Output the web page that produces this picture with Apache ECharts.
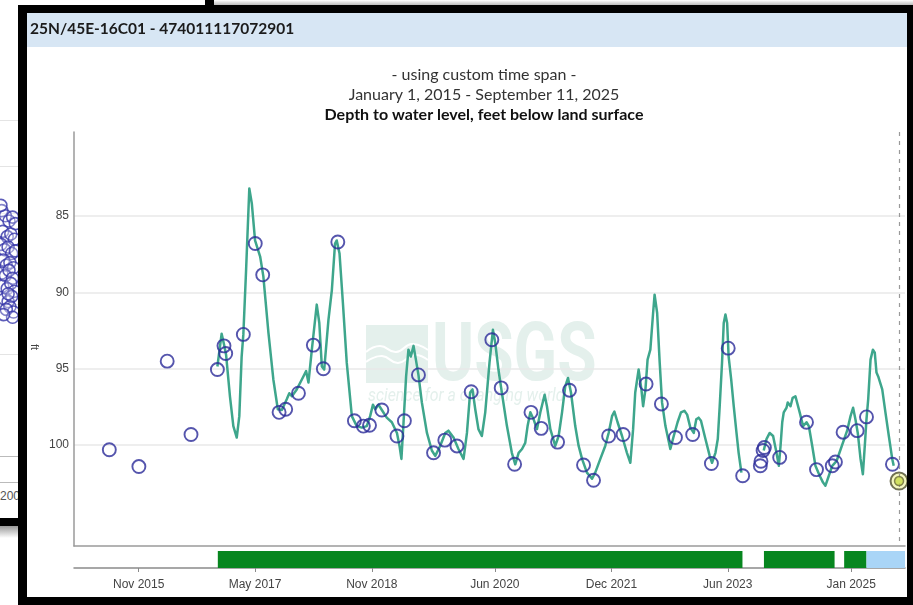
<!DOCTYPE html>
<html>
<head>
<meta charset="utf-8">
<script src="https://cdn.jsdelivr.net/npm/echarts@6/dist/echarts.min.js"></script>
<style>
  html, body { margin:0; padding:0; width:913px; height:605px; overflow:hidden; background:#fff; }
  #chart { position:absolute; left:0; top:0; width:913px; height:605px; z-index:1; }
  .f { position:absolute; z-index:3; }
  .hdr { position:absolute; z-index:0; left:27px; top:13px; width:881px; height:34px; background:#d7e6f4; }
  .hdrtxt { position:absolute; z-index:4; left:30px; top:19px; font:bold 15.5px Lato, "Open Sans", sans-serif; color:#1b1b1b; }
  .bgline { position:absolute; z-index:0; left:0; width:18px; height:1px; background:#e4e4e4; }
</style>
</head>
<body>
<div class="hdr"></div>
<div class="hdrtxt">25N/45E-16C01 - 474011117072901</div>
<!-- background window fragments on the left -->
<div class="bgline" style="top:120px"></div>
<div class="bgline" style="top:166px"></div>
<div class="bgline" style="top:213px"></div>
<div class="bgline" style="top:304px"></div>
<div class="bgline" style="top:354px"></div>
<div class="bgline" style="top:456px;background:#bbb"></div>
<div class="bgline" style="top:482px;background:#bbb"></div>
<div style="position:absolute;z-index:0;left:0;top:489px;font:12px 'Liberation Sans',Arial,sans-serif;color:#555">200</div>
<div class="f" style="left:0;top:518px;width:18px;height:8px;background:#000"></div>
<div class="f" style="left:0;top:526px;width:18px;height:12px;background:linear-gradient(#999,#fff)"></div>
<!-- main window frame -->
<div class="f" style="left:205px;top:0;width:9px;height:6px;background:#000"></div>
<div class="f" style="left:214px;top:0;width:699px;height:5px;background:linear-gradient(#fff,#bbb)"></div>
<div class="f" style="left:18px;top:5px;width:895px;height:8px;background:#000"></div>
<div class="f" style="left:18px;top:5px;width:9px;height:600px;background:#000"></div>
<div class="f" style="left:907px;top:5px;width:6px;height:600px;background:#000"></div>
<div class="f" style="left:18px;top:597px;width:895px;height:8px;background:#000"></div>
<div id="chart"></div>
<script>
// ---------- data ----------
const yTicks = [85, 90, 95, 100];
const xTickDates = ['2015-11-01','2017-05-01','2018-11-01','2020-06-01','2021-12-01','2023-06-01','2025-01-01'];
const xTickLabels = ['Nov 2015','May 2017','Nov 2018','Jun 2020','Dec 2021','Jun 2023','Jan 2025'];

// continuous record (depth to water, ft below land surface)
const lineDates = [
'2016-11-05','2016-11-25','2016-12-06','2016-12-16','2017-01-03','2017-01-19','2017-02-04','2017-02-16','2017-02-27','2017-03-07',
'2017-03-20','2017-04-04','2017-04-16','2017-05-01','2017-05-25','2017-06-09','2017-07-03','2017-07-26','2017-08-16','2017-09-04',
'2017-09-27','2017-10-09','2017-10-21','2017-11-13','2017-12-07','2017-12-27','2018-01-07','2018-01-23','2018-02-15','2018-02-27',
'2018-03-11','2018-03-22','2018-04-11','2018-04-27','2018-05-12','2018-05-20','2018-06-02','2018-06-18','2018-07-06','2018-07-30',
'2018-08-22','2018-09-15','2018-10-08','2018-10-24','2018-11-06','2018-11-17','2018-12-02','2018-12-18','2019-01-10','2019-02-03',
'2019-02-27','2019-03-11','2019-03-20','2019-03-30','2019-04-11','2019-04-22','2019-05-03','2019-05-16','2019-05-27','2019-06-08',
'2019-06-24','2019-07-18','2019-08-10','2019-08-26','2019-09-18','2019-10-12','2019-10-27','2019-11-20','2019-12-13','2020-01-06',
'2020-01-22','2020-02-06','2020-02-17','2020-03-01','2020-03-16','2020-04-01','2020-04-17','2020-05-07','2020-05-23','2020-06-03',
'2020-06-18','2020-07-04','2020-07-28','2020-08-20','2020-09-05','2020-09-21','2020-10-07','2020-10-22','2020-11-02','2020-11-15',
'2020-11-30','2020-12-16','2021-01-01','2021-01-21','2021-02-01','2021-02-17','2021-03-12','2021-03-28','2021-04-13','2021-04-28',
'2021-05-11','2021-05-25','2021-06-14','2021-06-30','2021-07-16','2021-08-08','2021-09-01','2021-09-16','2021-10-10','2021-11-02',
'2021-11-18','2021-12-04','2021-12-15','2021-12-30','2022-01-20','2022-02-12','2022-02-28','2022-03-13','2022-03-23','2022-04-08',
'2022-04-21','2022-04-29','2022-05-10','2022-05-20','2022-06-02','2022-06-15','2022-06-22','2022-07-04','2022-07-16','2022-07-27',
'2022-08-12','2022-09-04','2022-09-20','2022-10-08','2022-10-24','2022-11-09','2022-11-22','2022-12-07','2022-12-23','2023-01-04',
'2023-01-15','2023-01-26','2023-02-16','2023-03-08','2023-03-19','2023-04-04','2023-04-15','2023-04-24','2023-05-05','2023-05-13',
'2023-05-21','2023-05-29','2023-06-05','2023-06-17','2023-06-29','2023-07-12','2023-07-22','2023-08-04','2023-09-30','2023-11-17',
'2023-11-30','2023-12-15','2023-12-31','2024-01-16','2024-01-27','2024-02-04','2024-02-12','2024-02-19','2024-03-03','2024-03-09',
'2024-03-22','2024-04-01','2024-04-14','2024-04-22','2024-05-04','2024-05-20','2024-06-05','2024-06-16','2024-07-02','2024-07-17',
'2024-08-06','2024-08-22','2024-09-02','2024-09-18','2024-10-04','2024-10-24','2024-12-13','2024-12-29','2025-01-10','2025-01-21',
'2025-02-01','2025-02-14','2025-02-25','2025-03-06','2025-03-14','2025-03-22','2025-04-02','2025-04-13','2025-04-22','2025-04-30',
'2025-05-08','2025-05-14','2025-05-27','2025-06-11','2025-06-27','2025-07-13','2025-07-20'
];
const lineValues = [
94.85,92.7,93.4,94.1,96.8,98.75,99.5,98.1,94.2,92.75,
88.5,83.2,84.2,86.6,87.65,88.95,92.65,95.7,97.65,97.7,
97.0,96.6,96.8,96.35,95.7,95.15,95.9,93.75,90.8,92.0,
94.85,95.05,91.8,89.85,86.8,86.6,87.45,90.7,94.6,98.1,
98.75,98.85,98.75,98.1,97.35,97.65,97.35,97.7,98.2,98.5,
99.2,100.05,100.9,98.5,95.5,93.75,94.2,93.5,94.4,95.4,
97.2,99.2,100.35,100.7,100.05,99.2,99.05,99.5,100.25,100.9,
99.2,96.55,96.35,97.65,98.95,99.4,97.85,94.6,92.45,93.3,
95.05,96.55,98.75,100.5,101.25,100.5,100.25,99.85,98.75,97.85,
98.3,98.95,97.85,96.7,97.45,98.95,100.05,99.4,97.85,96.15,
95.6,96.55,98.75,100.05,100.9,101.8,102.2,101.8,100.9,100.05,
99.2,98.1,97.8,98.5,99.4,100.5,101.15,98.95,96.55,95.05,
96.35,97.45,96.35,94.4,93.75,91.35,90.15,91.35,94.6,97.2,
98.75,100.25,99.4,98.5,97.85,97.75,98.0,98.85,99.2,98.3,
98.2,98.4,99.6,100.7,101.15,100.5,99.6,97.45,94.6,92.0,
91.45,92.0,94.2,95.7,97.45,99.2,100.5,101.8,null,100.35,
99.6,99.2,99.4,100.5,101.35,100.05,98.5,97.85,97.55,97.2,
97.45,96.9,96.8,96.7,97.85,98.75,98.5,98.75,100.05,101.35,
102.0,102.45,102.65,102.0,101.35,101.05,99.05,98.1,97.55,98.3,
99.2,100.9,101.9,100.05,98.3,97.0,94.4,93.75,93.95,95.25,
95.5,95.4,96.35,97.85,99.4,100.9,101.35
];

// discrete field measurements
const measDates = [
'2015-06-16','2015-11-02','2016-03-14','2016-07-04','2016-11-05','2016-12-06','2016-12-14','2017-03-07','2017-05-02','2017-06-06',
'2017-08-22','2017-09-22','2017-11-21','2018-01-30','2018-03-18','2018-05-25','2018-08-11','2018-09-22','2018-10-21','2018-12-18',
'2019-02-27','2019-04-03','2019-06-08','2019-08-18','2019-10-10','2019-12-06','2020-02-11','2020-05-18','2020-07-01','2020-09-02',
'2020-11-18','2021-01-05','2021-03-23','2021-05-18','2021-07-23','2021-09-08','2021-11-18','2022-01-25','2022-05-13','2022-07-24',
'2022-09-28','2022-12-18','2023-03-16','2023-06-03','2023-08-10','2023-11-01','2023-11-04','2023-11-14','2023-11-20','2024-01-31',
'2024-06-05','2024-07-22','2024-10-04','2024-10-19','2024-11-24','2025-01-29','2025-03-14','2025-07-14'
];
const measValues = [
100.3,101.4,94.5,99.3,95.05,93.5,94.0,92.75,86.8,88.85,
97.85,97.65,96.6,93.45,95.0,86.7,98.4,98.75,98.7,97.7,
99.4,98.4,95.4,100.5,99.67,100.05,96.5,93.1,96.25,101.25,
97.85,98.9,99.8,96.4,101.3,102.3,99.4,99.3,96.0,97.3,
99.5,99.3,101.2,93.65,102.0,101.35,101.05,100.35,100.15,100.8,
98.5,101.6,101.35,101.1,99.15,99.05,98.15,101.25
];
const latestDate = '2025-08-14';
const latestValue = 102.35;

// data-approval periods
const approvalStarts = ['2016-11-07','2023-11-18','2024-11-29','2025-03-14'];
const approvalEnds   = ['2023-08-09','2024-10-15','2025-03-14','2025-09-11'];
const approvalKinds  = ['approved','approved','approved','provisional'];

// points of the chart in the window behind (only a sliver is visible)
const bgX = [2,6,10,14,17,3,8,12,16,1,5,9,13,17,4,7,11,15,2,6,10,14,3,8,12,16,5,9,13,1,11,15,7,14,4,9];
const bgY = [88,84,80,83,78,72,68,70,66,62,58,60,55,57,50,46,48,44,40,38,42,36,30,28,32,26,20,18,22,92,14,10,12,6,8,24];

// ---------- chart ----------
const axisMin = '2015-01-01', axisMax = '2025-09-11';
const ts = d => new Date(d + 'T00:00:00Z').getTime();
const tMin = ts(axisMin), tMax = ts(axisMax);
const tickTs = xTickDates.map(ts);
const lineData = lineDates.map((d, i) => [ts(d), lineValues[i]]);
const measData = measDates.map((d, i) => [ts(d), measValues[i]]);
const approvalData = approvalStarts.map((s, i) => [ts(s), ts(approvalEnds[i]), approvalKinds[i]]);
const labelFont = "'Liberation Sans', Arial, sans-serif";
const titleStyle = {fontFamily: 'Lato, sans-serif', fontSize: 16, fontWeight: 'normal', color: '#333'};

const chart = echarts.init(document.getElementById('chart'), null, {renderer: 'canvas'});
chart.setOption({
  animation: false,
  backgroundColor: 'transparent',
  title: [
    {text: '- using custom time span -', left: 479, top: 62, textAlign: 'center', textStyle: titleStyle},
    {text: 'January 1, 2015 - September 11, 2025', left: 479, top: 82, textAlign: 'center', textStyle: titleStyle},
    {text: 'Depth to water level, feet below land surface', left: 479, top: 102, textAlign: 'center',
     textStyle: Object.assign({}, titleStyle, {fontWeight: 'bold', color: '#111'})}
  ],
  graphic: [
    {type: 'rect', z: -1, shape: {x: 366, y: 325, width: 62, height: 58}, style: {fill: '#e4f0ec'}},
    {type: 'polyline', z: -1, shape: {points: [[366,352],[380,346],[396,352],[412,344],[428,350]], smooth: 0.5}, style: {stroke: '#fff', lineWidth: 2, fill: null}},
    {type: 'polyline', z: -1, shape: {points: [[366,362],[382,356],[398,363],[414,355],[428,360]], smooth: 0.5}, style: {stroke: '#fff', lineWidth: 2, fill: null}},
    {type: 'text', z: -1, x: 432, y: 318, scaleX: 0.78, style: {text: 'USGS', fontFamily: 'Roboto, sans-serif', fontWeight: 'bold', fontSize: 82, fill: '#e4f0ec'}},
    {type: 'text', z: -1, x: 368, y: 387, scaleX: 0.88, style: {text: 'science for a changing world', fontFamily: 'Roboto, sans-serif', fontStyle: 'italic', fontSize: 18, fill: '#e4f0ec'}},
    {type: 'text', left: 29, top: 344, rotation: -Math.PI / 2, style: {text: 'ft', fontFamily: labelFont, fontSize: 11, fill: '#444'}}
  ],
  grid: [
    {left: 74, top: 132, width: 831, height: 414},
    {left: 74, top: 551, width: 831, height: 17},
    {left: 0, top: 195, width: 18, height: 130}
  ],
  xAxis: [
    {type: 'value', gridIndex: 0, min: tMin, max: tMax,
     axisLine: {show: true, lineStyle: {color: '#9a9a9a', width: 1.5}},
     axisTick: {show: false}, axisLabel: {show: false}, splitLine: {show: false}},
    {type: 'value', gridIndex: 1, min: tMin, max: tMax, offset: 5,
     axisLine: {show: true, lineStyle: {color: '#8a8a8a', width: 1.5}},
     axisTick: {show: true, customValues: tickTs, length: 4, lineStyle: {color: '#8a8a8a'}},
     axisLabel: {show: true, customValues: tickTs, margin: 6, fontFamily: labelFont, fontSize: 12, color: '#444',
       formatter: v => { const i = tickTs.indexOf(v); return i >= 0 ? xTickLabels[i] : ''; }},
     splitLine: {show: false}},
    {type: 'value', gridIndex: 2, min: 0, max: 20, show: false}
  ],
  yAxis: [
    {type: 'value', gridIndex: 0, inverse: true, min: 79.5, max: 106.6,
     axisLine: {show: true, lineStyle: {color: '#9a9a9a', width: 1.5}},
     axisTick: {show: false, customValues: yTicks},
     axisLabel: {customValues: yTicks, margin: 5, fontFamily: labelFont, fontSize: 12, color: '#444'},
     splitLine: {show: true, lineStyle: {color: '#e8e8e8', width: 1.5}}},
    {type: 'value', gridIndex: 1, min: 0, max: 1, show: false},
    {type: 'value', gridIndex: 2, min: 0, max: 100, show: false}
  ],
  series: [
    {type: 'line', xAxisIndex: 0, yAxisIndex: 0, data: lineData, showSymbol: false, connectNulls: false,
     lineStyle: {color: '#3ea68c', width: 2.5, join: 'round'}, z: 2,
     markLine: {silent: true, symbol: 'none', label: {show: false},
       lineStyle: {color: '#999', type: [4, 5], width: 1.2}, data: [{xAxis: ts(latestDate)}]}},
    {type: 'scatter', xAxisIndex: 0, yAxisIndex: 0, data: measData, symbol: 'circle', symbolSize: 13,
     itemStyle: {color: 'rgba(0,0,0,0)', borderColor: '#2a2a98', borderWidth: 1.9}, z: 3},
    {type: 'scatter', xAxisIndex: 0, yAxisIndex: 0, data: [[ts(latestDate), latestValue]], symbol: 'circle', symbolSize: 17,
     itemStyle: {color: '#f2f5b0', borderColor: '#4d4d2e', borderWidth: 2}, z: 4},
    {type: 'scatter', xAxisIndex: 0, yAxisIndex: 0, data: [[ts(latestDate), latestValue]], symbol: 'circle', symbolSize: 9,
     itemStyle: {color: '#c9dc4a', borderColor: '#6b6b3a', borderWidth: 1.5}, z: 5},
    {type: 'custom', xAxisIndex: 1, yAxisIndex: 1, data: approvalData,
     encode: {x: [0, 1]},
     renderItem: (params, api) => {
       const p0 = api.coord([api.value(0), 1]);
       const p1 = api.coord([api.value(1), 0]);
       const kind = approvalData[params.dataIndex][2];
       return {type: 'rect', shape: {x: p0[0], y: p0[1], width: p1[0] - p0[0], height: p1[1] - p0[1]},
               style: {fill: kind === 'approved' ? '#07861f' : '#a9d5f7'}};
     }},
    {type: 'scatter', xAxisIndex: 2, yAxisIndex: 2, data: bgX.map((x, i) => [x, bgY[i]]), symbol: 'circle', symbolSize: 12,
     itemStyle: {color: 'rgba(255,255,255,0.3)', borderColor: '#3434a8', borderWidth: 1.6}}
  ]
});
</script>
</body>
</html>
